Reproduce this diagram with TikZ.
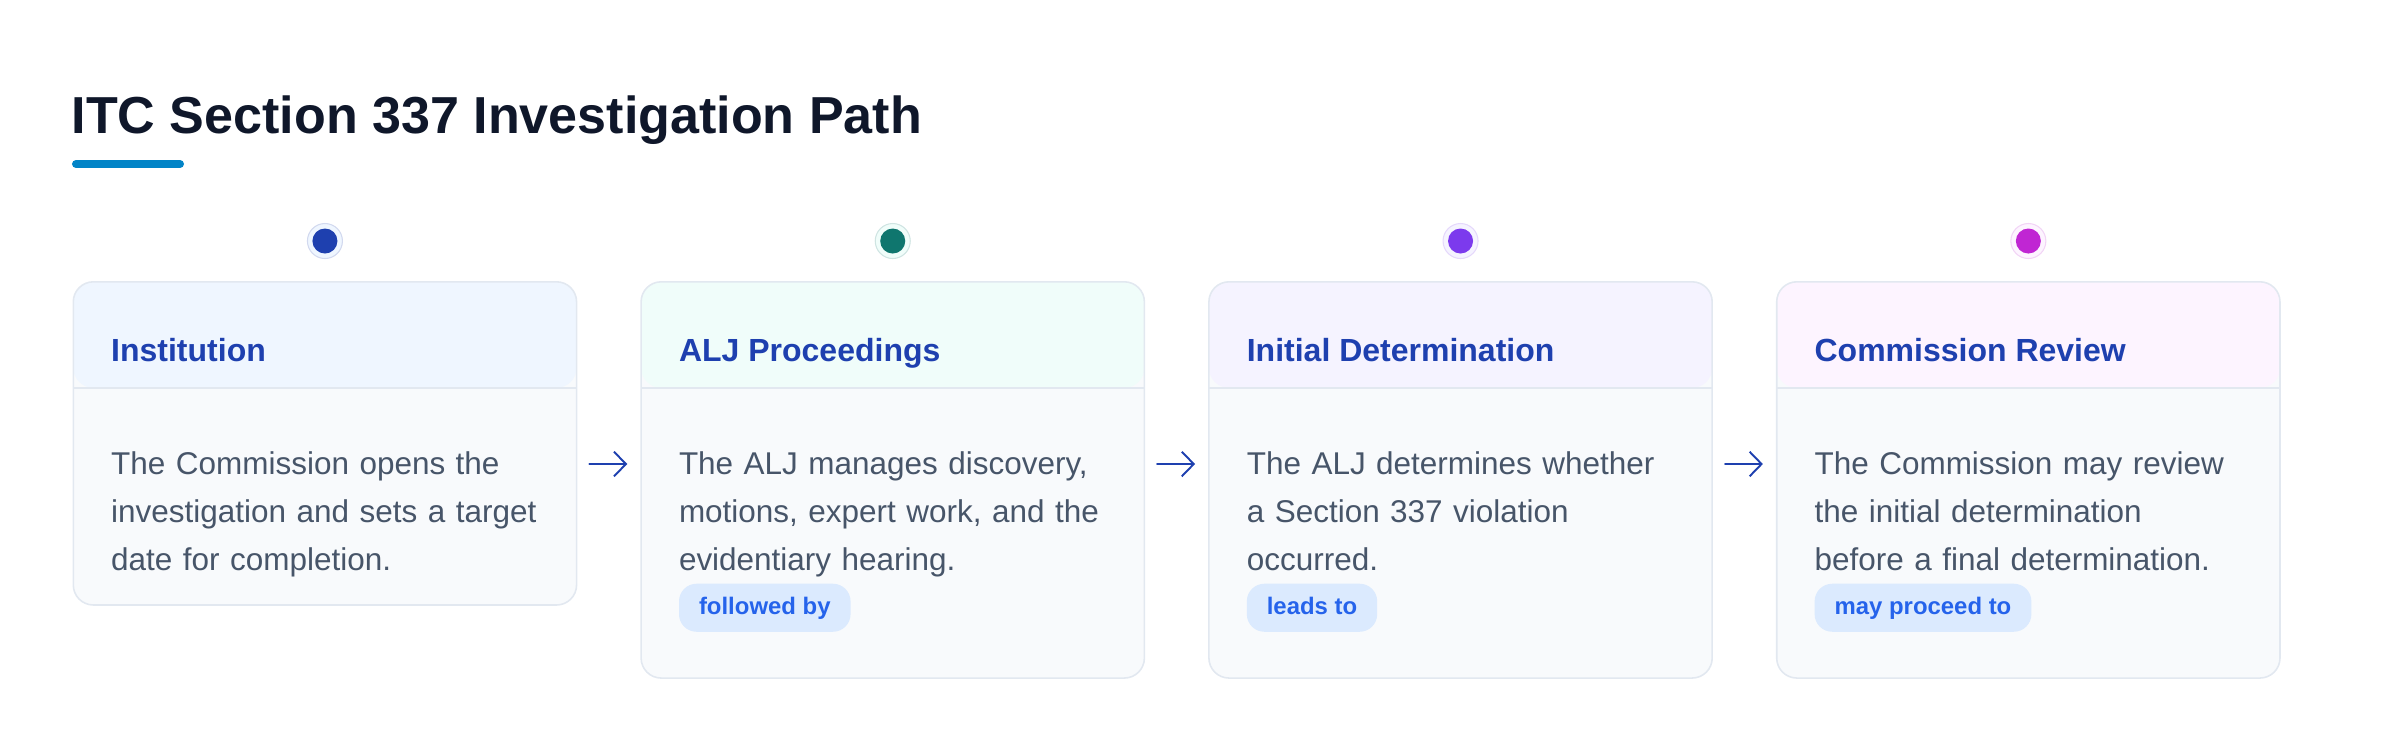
\documentclass[tikz,border=0pt]{standalone}
\usepackage{fontspec}
\setmainfont{Liberation Sans}
\usetikzlibrary{arrows.meta,positioning}
\definecolor{ink}{HTML}{0F172A}
\definecolor{barc}{HTML}{0284C7}
\definecolor{headtxtc}{HTML}{1E40AF}
\definecolor{bodyc}{HTML}{475569}
\definecolor{cardline}{HTML}{E2E8F0}
\definecolor{cardbody}{HTML}{F8FAFC}
\definecolor{tagfill}{HTML}{DBEAFE}
\definecolor{tagtxt}{HTML}{2563EB}
\definecolor{dotA}{HTML}{1E40AF}
\definecolor{dotB}{HTML}{0F766E}
\definecolor{dotC}{HTML}{7C3AED}
\definecolor{dotD}{HTML}{C026D3}
\definecolor{headA}{HTML}{EFF6FF}
\definecolor{headB}{HTML}{F0FDFA}
\definecolor{headC}{HTML}{F5F3FF}
\definecolor{headD}{HTML}{FDF4FF}
\begin{document}
\begin{tikzpicture}[x=0.01cm, y=-0.01cm, line join=round, line cap=round,
    card/.style={draw=cardline, line width=0.45pt, fill=cardbody, rounded corners=5.7pt,
      anchor=north west, inner sep=0pt, minimum width=5.03cm,
      path picture={
        \fill[#1] (path picture bounding box.north west) rectangle ([shift={(0,106)}]path picture bounding box.north east);
        \draw[cardline, line width=0.45pt] ([shift={(0,106)}]path picture bounding box.north west) -- ([shift={(0,106)}]path picture bounding box.north east);}},
    ring/.style={circle, inner sep=0pt, minimum size=0.35cm, line width=0.3pt},
    dot/.style={circle, inner sep=0pt, minimum size=0.25cm},
    headtxt/.style={anchor=base west, inner sep=0pt, text=headtxtc, font=\fontsize{9.1}{11}\selectfont\bfseries},
    bodytxt/.style={anchor=base west, inner sep=0pt, text width=4.4cm, align=left, text=bodyc, font=\fontsize{8.95}{13.66}\selectfont},
    tag/.style={anchor=north west, fill=tagfill, rounded corners=5pt, inner xsep=0.2cm, inner ysep=0pt,
      text height=8.82pt, text depth=4.84pt, text=tagtxt, font=\fontsize{6.8}{8}\selectfont\bfseries},
    flow/.style={draw=headtxtc, line width=0.55pt, -{Straight Barb[length=3.4pt, width=7pt]}}]
  \useasboundingbox (0,0) rectangle (2400,750);
  % title
  \node[anchor=base west, inner sep=0pt, text=ink, font=\fontsize{14.8}{18}\selectfont\bfseries] (title) at (71,133) {ITC Section 337 Investigation Path};
  \draw[barc, line width=2.28pt] (76,164) -- (180,164);
  % cards
  \node[card=headA, minimum height=3.23cm] (card1) at (72.5,281) {};
  \node[card=headB, minimum height=3.96cm] (card2) at (640.3,281) {};
  \node[card=headC, minimum height=3.96cm] (card3) at (1208.1,281) {};
  \node[card=headD, minimum height=3.96cm] (card4) at (1775.9,281) {};
  % markers
  \node[ring, fill=headA, draw=dotA!20] (ring1) at ([shift={(0,-40)}]card1.north) {};
  \node[ring, fill=headB, draw=dotB!20] (ring2) at ([shift={(0,-40)}]card2.north) {};
  \node[ring, fill=headC, draw=dotC!20] (ring3) at ([shift={(0,-40)}]card3.north) {};
  \node[ring, fill=headD, draw=dotD!20] (ring4) at ([shift={(0,-40)}]card4.north) {};
  \node[dot, fill=dotA] (dot1) at (ring1) {};
  \node[dot, fill=dotB] (dot2) at (ring2) {};
  \node[dot, fill=dotC] (dot3) at (ring3) {};
  \node[dot, fill=dotD] (dot4) at (ring4) {};
  % headers
  \node[headtxt] (head1) at ([shift={(38,80)}]card1.north west) {Institution};
  \node[headtxt] (head2) at ([shift={(38,80)}]card2.north west) {ALJ Proceedings};
  \node[headtxt] (head3) at ([shift={(38,80)}]card3.north west) {Initial Determination};
  \node[headtxt] (head4) at ([shift={(38,80)}]card4.north west) {Commission Review};
  % texts
  \node[bodytxt] (body1) at ([shift={(38,193)}]card1.north west) {The Commission opens the\\investigation and sets a target\\date for completion.};
  \node[bodytxt] (body2) at ([shift={(38,193)}]card2.north west) {The ALJ manages discovery,\\motions, expert work, and the\\evidentiary hearing.};
  \node[bodytxt] (body3) at ([shift={(38,193)}]card3.north west) {The ALJ determines whether\\a Section 337 violation\\occurred.};
  \node[bodytxt] (body4) at ([shift={(38,193)}]card4.north west) {The Commission may review\\the initial determination\\before a final determination.};
  \node[tag] (tag2) at ([shift={(38,302)}]card2.north west) {followed by};
  \node[tag] (tag3) at ([shift={(38,302)}]card3.north west) {leads to};
  \node[tag] (tag4) at ([shift={(38,302)}]card4.north west) {may proceed to};
  % arrows
  \draw[flow] ([shift={(12,183)}]card1.north east) -- ([shift={(-13,183)}]card2.north west);
  \draw[flow] ([shift={(12,183)}]card2.north east) -- ([shift={(-13,183)}]card3.north west);
  \draw[flow] ([shift={(12,183)}]card3.north east) -- ([shift={(-13,183)}]card4.north west);
\end{tikzpicture}
\end{document}
